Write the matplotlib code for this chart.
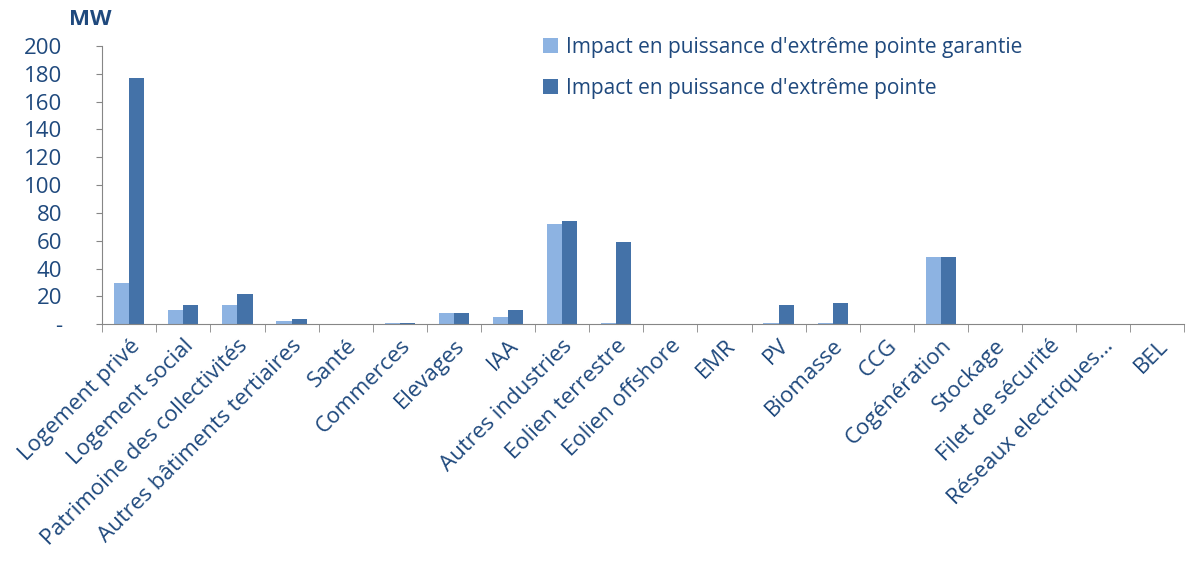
import numpy as np
import matplotlib.pyplot as plt
from matplotlib.ticker import FixedLocator, FuncFormatter

categories = ['Logement privé', 'Logement social', 'Patrimoine des collectivités',
              'Autres bâtiments tertiaires', 'Santé', 'Commerces', 'Elevages', 'IAA',
              'Autres industries', 'Eolien terrestre', 'Eolien offshore', 'EMR', 'PV',
              'Biomasse', 'CCG', 'Cogénération', 'Stockage', 'Filet de sécurité',
              'Réseaux electriques…', 'BEL']
puissance_garantie = [30, 10.5, 14, 2, 0, 1, 8, 5.5, 72, 1, 0, 0, 1, 1, 0, 48, 0, 0, 0, 0]
puissance_pointe = [177, 14, 22, 3.5, 0, 1, 8, 10.5, 74, 59, 0, 0, 14, 15, 0, 48, 0, 0, 0, 0]
yticks = [0, 20, 40, 60, 80, 100, 120, 140, 160, 180, 200]

plt.rcParams['font.family'] = ['Open Sans', 'DejaVu Sans']
texte = '#1F497D'
gris = '#868686'

fig = plt.figure(figsize=(11.88, 5.61), dpi=100)
ax = fig.add_axes([0.086, 0.422, 0.911, 0.496])

x = np.arange(len(categories))
w = 0.28
ax.bar(x - w / 2, puissance_garantie, w, color='#8DB3E2',
       label="Impact en puissance d'extrême pointe garantie")
ax.bar(x + w / 2, puissance_pointe, w, color='#4472A8',
       label="Impact en puissance d'extrême pointe")

ax.set_xlim(-0.5, len(categories) - 0.5)
ax.set_ylim(0, 200)
ax.set_yticks(yticks)
ax.yaxis.set_major_formatter(FuncFormatter(lambda v, p: '-' if v == 0 else f'{v:.0f}'))
ax.tick_params(axis='y', colors=gris, labelcolor=texte, labelsize=16, length=4, pad=25)

ax.set_xticks(x)
ax.set_xticklabels(categories, rotation=45, ha='right', rotation_mode='anchor')
ax.tick_params(axis='x', which='major', length=0, labelcolor=texte, labelsize=16, pad=8)
ax.xaxis.set_minor_locator(FixedLocator(np.arange(-0.5, len(categories), 1)))
ax.tick_params(axis='x', which='minor', length=6, color=gris)

for s in ['top', 'right']:
    ax.spines[s].set_visible(False)
for s in ['left', 'bottom']:
    ax.spines[s].set_color(gris)

fig.text(0.058, 0.955, 'MW', color=texte, fontsize=16, fontweight='bold')

ax.legend(loc='upper left', bbox_to_anchor=(0.39, 1.1), frameon=False,
          fontsize=15, labelcolor=texte, handlelength=0.7, handleheight=0.7,
          handletextpad=0.4, labelspacing=0.95)

fig.savefig('out.png', dpi=100)
